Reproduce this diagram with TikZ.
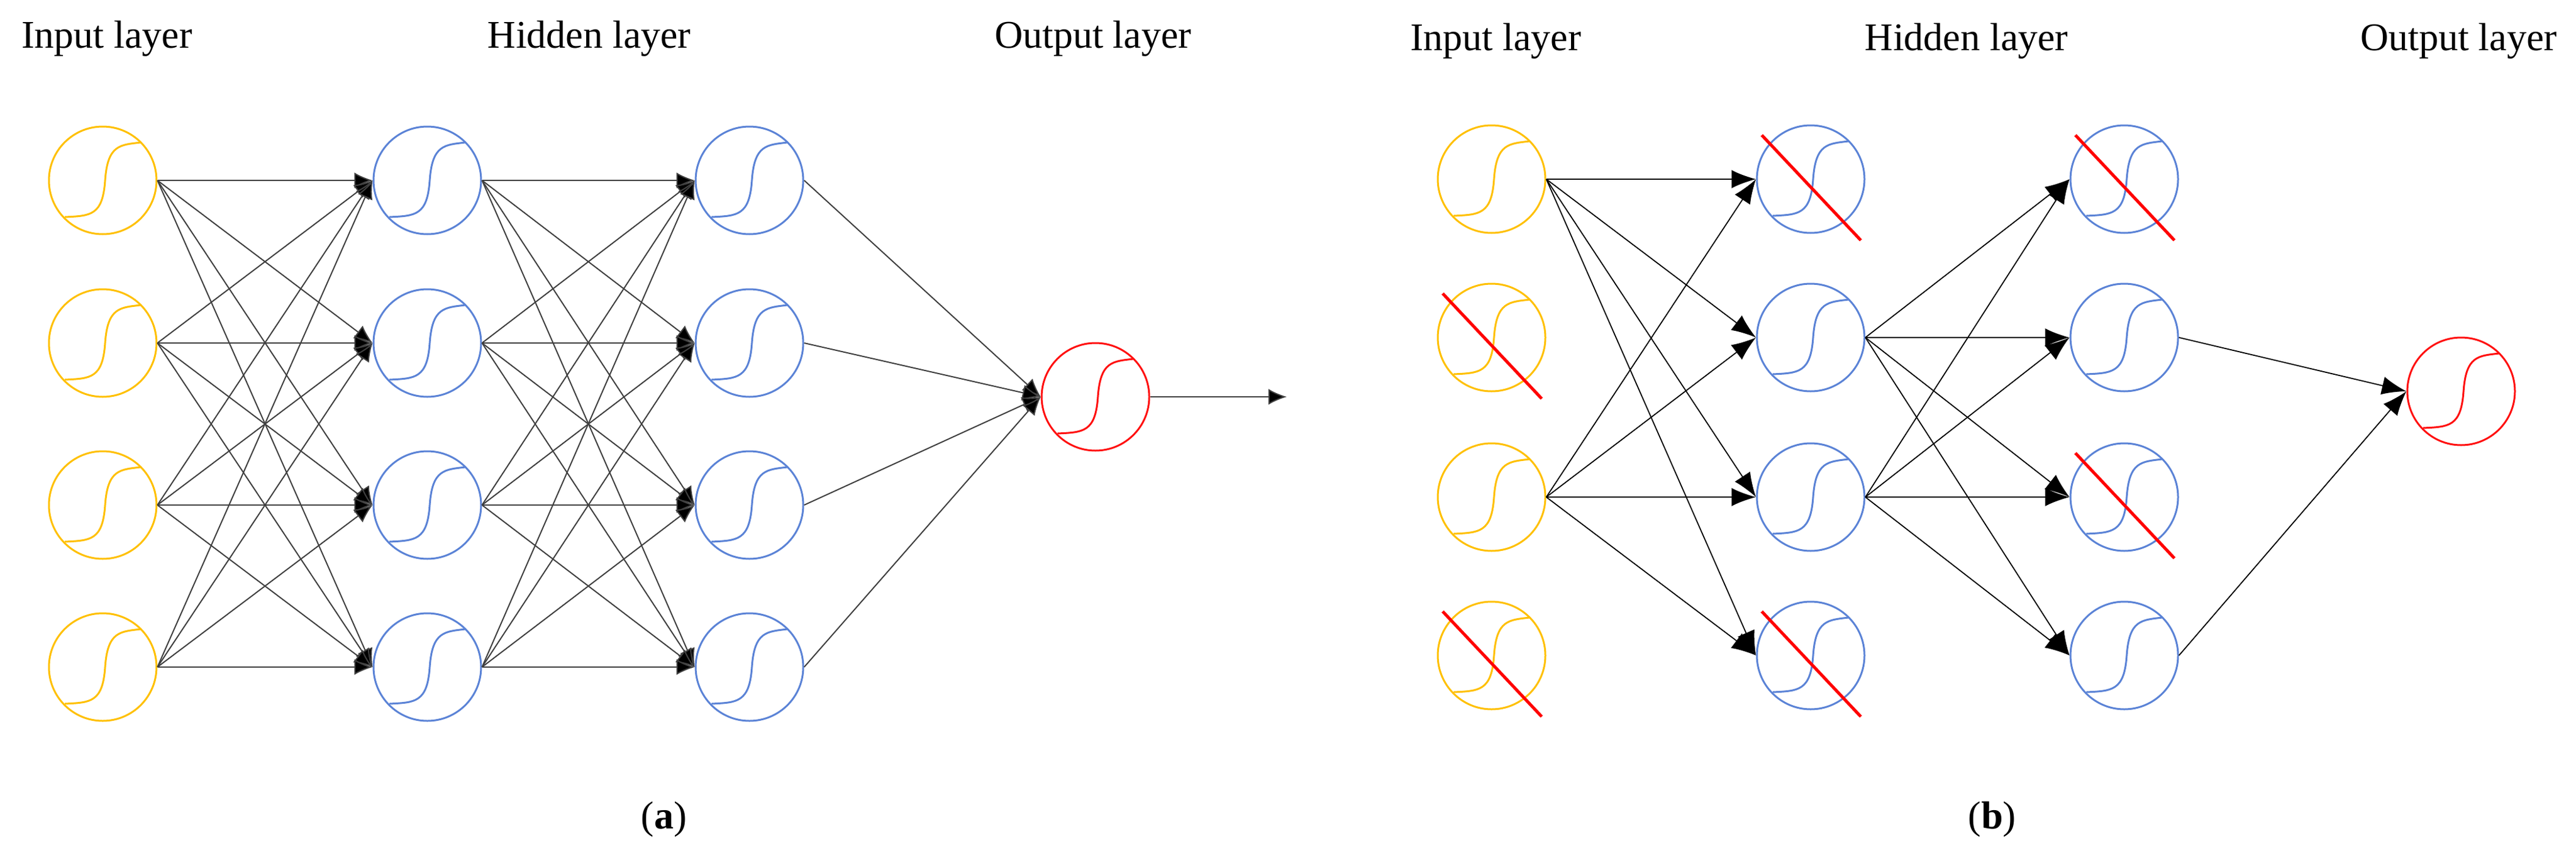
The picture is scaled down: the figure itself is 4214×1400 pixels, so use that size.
\documentclass[tikz,border=0pt]{standalone}
\usepackage{fontspec}
\setmainfont{Liberation Serif}
\usetikzlibrary{arrows.meta}
\definecolor{cin}{HTML}{FFC000}
\definecolor{chid}{HTML}{5B83D6}
\definecolor{cout}{HTML}{FF1010}
\begin{document}
\begin{tikzpicture}[x=1pt,y=-1pt,
  neuron/.style={circle,draw=#1,line width=3pt,minimum size=176pt,inner sep=0pt},
  sig/.style={draw=#1,line width=3pt},
  lbl/.style={font=\fontsize{64}{70}\selectfont,inner sep=0pt},
  edgeA/.style={draw=black!75,line width=2pt,-{Latex[length=30pt,width=26pt,fill=black]}},
  edgeB/.style={draw=black,line width=1.8pt,-{Latex[length=40pt,width=30pt]}},
  drop/.style={draw=red,line width=5pt}]
\useasboundingbox (0,0) rectangle (4214,1400);
\newcommand{\sigm}[2]{\draw[sig=#2,shift={(#1.center)}] (-62,60) .. controls (-20,58) and (0,58) .. (4,0) .. controls (8,-58) and (28,-58) .. (62,-62);}
% ---------- panel (a)
\node[lbl] (la1) at (175,63) {Input layer};
\node[lbl] (la2) at (964,63) {Hidden layer};
\node[lbl] (la3) at (1788,63) {Output layer};
\node[lbl] (capa) at (1086,1340) {(\textbf{a})};
\foreach \i/\y in {0/295,1/561,2/826,3/1091}{
  \node[neuron=cin] (ai\i) at (168,\y) {}; \sigm{ai\i}{cin}
  \node[neuron=chid] (ah\i) at (699,\y) {}; \sigm{ah\i}{chid}
  \node[neuron=chid] (aj\i) at (1226,\y) {}; \sigm{aj\i}{chid}
}
\node[neuron=cout] (ao) at (1792,649) {}; \sigm{ao}{cout}
\coordinate (aend) at (2105,649);
\foreach \i in {0,...,3}{\foreach \j in {0,...,3}{
  \draw[edgeA] (ai\i.east) -- (ah\j.west);
  \draw[edgeA] (ah\i.east) -- (aj\j.west);}
  \draw[edgeA] (aj\i.east) -- (ao.west);}
\draw[edgeA] (ao.east) -- (aend);
% ---------- panel (b)
\node[lbl] (lb1) at (2447,67) {Input layer};
\node[lbl] (lb2) at (3217,67) {Hidden layer};
\node[lbl] (lb3) at (4022,67) {Output layer};
\node[lbl] (capb) at (3259,1340) {(\textbf{b})};
\foreach \i/\y in {0/293,1/552,2/813,3/1072}{
  \node[neuron=cin] (bi\i) at (2440,\y) {}; \sigm{bi\i}{cin}
  \node[neuron=chid] (bh\i) at (2962,\y) {}; \sigm{bh\i}{chid}
  \node[neuron=chid] (bj\i) at (3475,\y) {}; \sigm{bj\i}{chid}
}
\node[neuron=cout] (bo) at (4026,640) {}; \sigm{bo}{cout}
\foreach \i in {0,2}{\foreach \j in {0,...,3}{\draw[edgeB] (bi\i.east) -- (bh\j.west);}}
\foreach \i in {1,2}{\foreach \j in {0,...,3}{\draw[edgeB] (bh\i.east) -- (bj\j.west);}}
\foreach \i in {1,3}{\draw[edgeB] (bj\i.east) -- (bo.west);}
\foreach \n in {bi1,bi3,bh0,bh3,bj0,bj2}{
  \draw[drop,shift={(\n.center)}] (-80,-72) -- (82,100);}
\end{tikzpicture}
\end{document}
